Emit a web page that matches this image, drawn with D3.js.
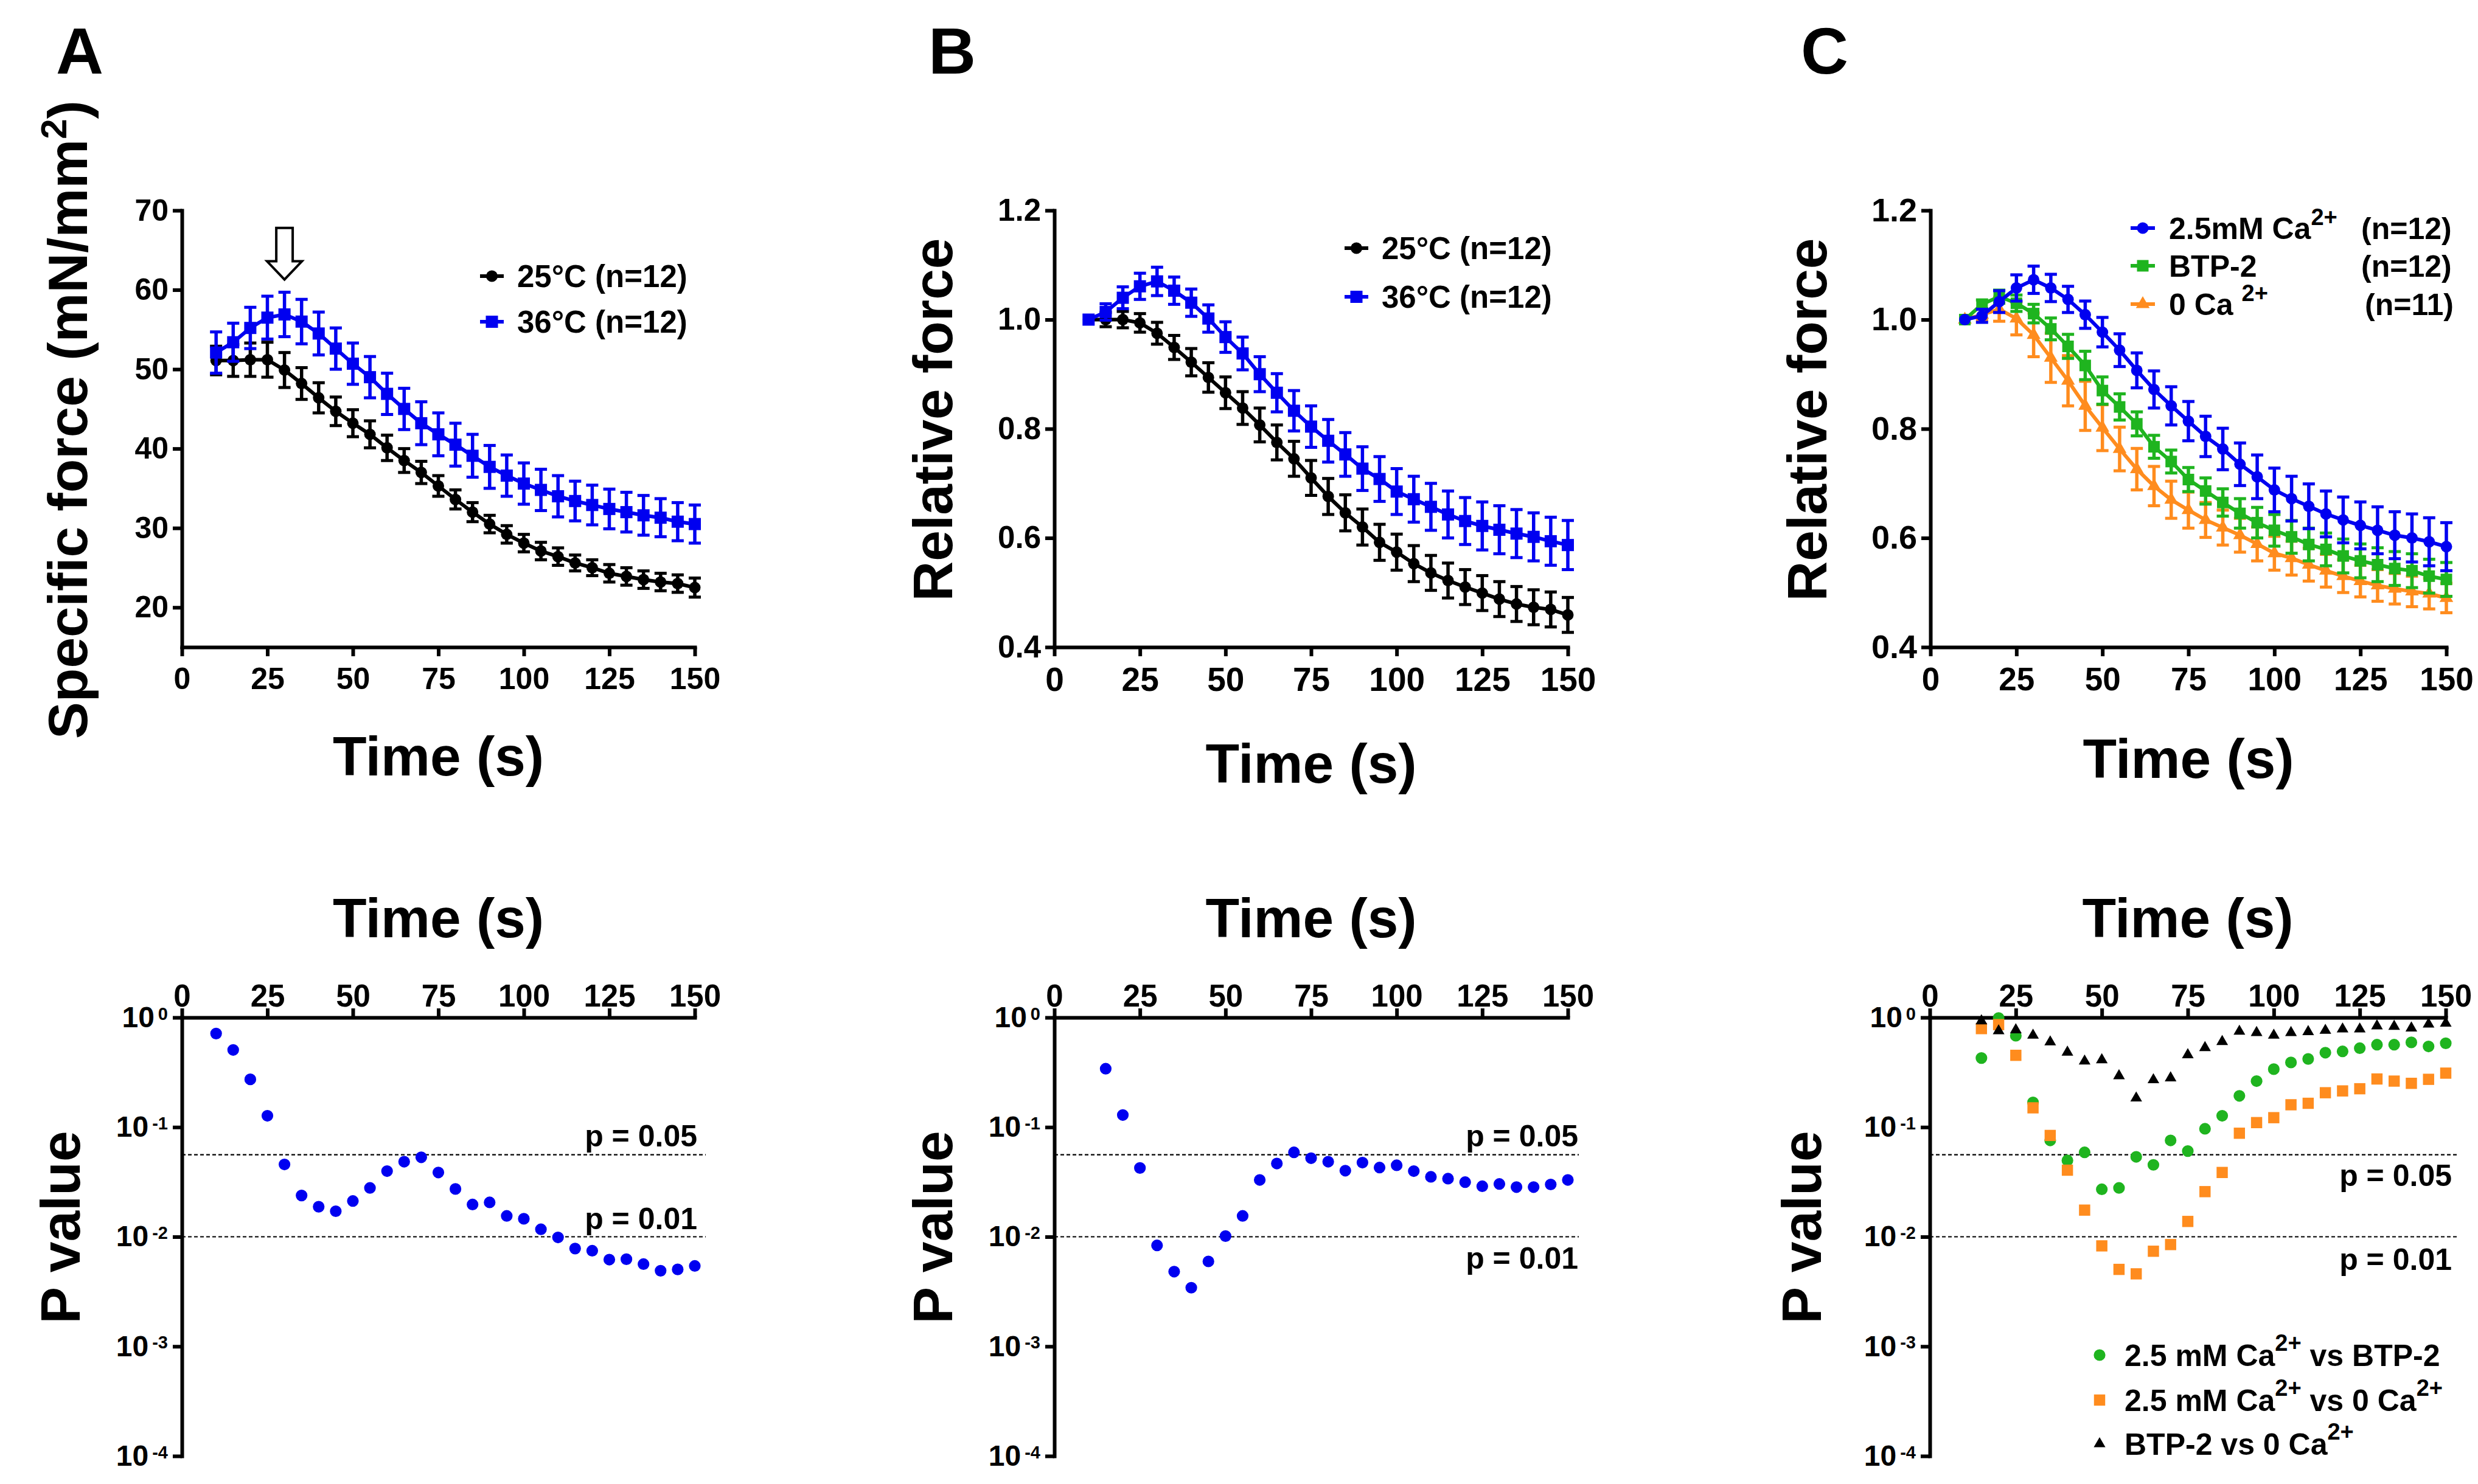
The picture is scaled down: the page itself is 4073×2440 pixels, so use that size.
<!DOCTYPE html>
<html>
<head>
<meta charset="utf-8">
<script src="https://cdn.jsdelivr.net/npm/d3@7"></script>
<style>
  body { margin: 0; background: #fff; }
  svg { display: block; }
  text { font-family: "Liberation Sans", Arial, sans-serif; font-weight: bold; fill: #000; }
</style>
</head>
<body>
<svg id="fig"></svg>
<script>
// ---- data ----
var times = [10,15,20,25,30,35,40,45,50,55,60,65,70,75,80,85,90,95,100,105,110,115,120,125,130,135,140,145,150];
var pTimes = times.slice(1); // p values in B and C start at 15 s
var timeTicks = [0,25,50,75,100,125,150];

// A: specific force (mN/mm2), mean and SEM
var forceA25 = [51.1,51.1,51.2,51.2,49.9,48.2,46.4,44.7,43.2,41.8,40.1,38.5,37.0,35.3,33.6,32.0,30.5,29.2,28.1,27.1,26.4,25.6,25.0,24.3,23.9,23.5,23.2,23.0,22.5];
var semA25   = [1.8,2.0,2.1,2.2,2.2,2.0,1.9,1.8,1.7,1.7,1.6,1.5,1.4,1.3,1.2,1.2,1.1,1.1,1.1,1.1,1.1,1.0,1.0,1.1,1.1,1.1,1.1,1.1,1.2];
var forceA36 = [52.1,53.4,55.2,56.5,56.9,56.0,54.5,52.6,50.7,49.0,46.9,45.0,43.2,41.8,40.5,39.1,37.7,36.6,35.6,34.8,34.0,33.4,32.9,32.4,32.0,31.6,31.3,30.8,30.5];
var semA36   = [2.6,2.4,2.6,2.7,2.8,2.8,2.7,2.6,2.6,2.6,2.6,2.6,2.7,2.7,2.7,2.7,2.7,2.6,2.6,2.6,2.6,2.5,2.5,2.5,2.5,2.5,2.4,2.4,2.4];

// B: relative force
var relB25 = [1.0,1.0,1.0,0.994,0.975,0.949,0.922,0.894,0.866,0.838,0.807,0.775,0.745,0.710,0.676,0.646,0.620,0.592,0.574,0.553,0.536,0.522,0.510,0.499,0.488,0.479,0.473,0.469,0.459];
var semB25 = [0,0.013,0.015,0.017,0.02,0.022,0.025,0.027,0.029,0.03,0.031,0.032,0.032,0.032,0.033,0.033,0.033,0.033,0.033,0.033,0.032,0.032,0.032,0.032,0.032,0.032,0.032,0.032,0.032];
var relB36 = [1.0,1.014,1.040,1.061,1.070,1.053,1.031,1.002,0.968,0.938,0.900,0.866,0.833,0.804,0.778,0.753,0.727,0.708,0.685,0.671,0.657,0.643,0.631,0.622,0.615,0.608,0.602,0.594,0.587];
var semB36 = [0,0.015,0.02,0.024,0.026,0.025,0.025,0.025,0.028,0.03,0.032,0.035,0.037,0.038,0.039,0.04,0.04,0.041,0.042,0.042,0.043,0.043,0.043,0.044,0.044,0.044,0.044,0.044,0.045];

// C: relative force
var relCCa  = [1.0,1.007,1.033,1.058,1.073,1.058,1.037,1.009,0.977,0.944,0.907,0.872,0.842,0.814,0.786,0.763,0.735,0.712,0.688,0.672,0.658,0.644,0.633,0.623,0.614,0.605,0.600,0.593,0.584];
var semCCa  = [0,0.012,0.02,0.024,0.025,0.025,0.024,0.025,0.027,0.03,0.032,0.034,0.035,0.036,0.037,0.038,0.039,0.04,0.04,0.041,0.041,0.042,0.042,0.043,0.043,0.043,0.044,0.044,0.044];
var relCBtp = [1.0,1.028,1.042,1.030,1.011,0.983,0.951,0.916,0.870,0.840,0.809,0.767,0.740,0.707,0.686,0.665,0.645,0.628,0.614,0.602,0.588,0.579,0.567,0.558,0.551,0.544,0.540,0.530,0.524];
var semCBtp = [0,0.008,0.012,0.015,0.017,0.02,0.022,0.026,0.025,0.024,0.022,0.021,0.021,0.022,0.024,0.025,0.027,0.028,0.029,0.03,0.03,0.03,0.031,0.031,0.031,0.031,0.031,0.031,0.031];
var relC0   = [1.0,1.009,1.019,1.002,0.972,0.930,0.888,0.842,0.802,0.763,0.726,0.695,0.670,0.651,0.633,0.619,0.605,0.589,0.572,0.563,0.551,0.540,0.530,0.521,0.513,0.507,0.502,0.498,0.490];
var semC0   = [0,0.01,0.022,0.03,0.04,0.045,0.046,0.045,0.042,0.04,0.038,0.036,0.034,0.033,0.032,0.032,0.031,0.031,0.031,0.031,0.03,0.03,0.03,0.029,0.029,0.028,0.028,0.028,0.027];

// P values
var pA = [0.714,0.506,0.273,0.127,0.0457,0.0238,0.0188,0.0171,0.0212,0.0279,0.0397,0.0484,0.0531,0.0386,0.0273,0.0197,0.0206,0.0155,0.0146,0.0117,0.00987,0.00781,0.00746,0.00619,0.00624,0.00563,0.0049,0.00504,0.00542];
var pB = [0.341,0.129,0.0424,0.00834,0.00481,0.00343,0.00596,0.01015,0.0155,0.033,0.0466,0.0589,0.0521,0.0484,0.0401,0.0475,0.0428,0.0449,0.0397,0.0352,0.0339,0.0315,0.0289,0.0303,0.0284,0.0284,0.030,0.033];
var pCaVsBtp = [0.427,0.99,0.682,0.168,0.0757,0.0497,0.0589,0.0271,0.0279,0.0536,0.0453,0.0757,0.0605,0.0966,0.127,0.193,0.263,0.338,0.389,0.419,0.478,0.491,0.525,0.565,0.565,0.593,0.545,0.582];
var pCaVs0   = [0.792,0.861,0.452,0.150,0.084,0.0405,0.0175,0.00826,0.00504,0.00459,0.00738,0.00849,0.0138,0.0258,0.0386,0.088,0.110,0.122,0.160,0.165,0.206,0.214,0.224,0.275,0.263,0.251,0.273,0.311];
var pBtpVs0  = [0.93,0.755,0.77,0.688,0.598,0.482,0.400,0.411,0.294,0.184,0.270,0.281,0.456,0.530,0.603,0.748,0.728,0.688,0.728,0.741,0.762,0.784,0.784,0.837,0.829,0.80,0.869,0.885];
var pTicks = [1,0.1,0.01,0.001,0.0001];
var pExponents = ["0","-1","-2","-3","-4"];
var pLines = [0.056, 0.01];
var pLineLabels = ["p = 0.05","p = 0.01"];

// labels
var legendAB = ["25\u00b0C (n=12)","36\u00b0C (n=12)"];
var legendC = [[["2.5mM Ca",0],["2+",1]], [["BTP-2",0]], [["0 Ca ",0],["2+",1]]];
var legendCn = ["(n=12)","(n=12)","(n=11)"];
var legendP = [
  [["2.5 mM Ca",0],["2+",1],[" vs BTP-2",0]],
  [["2.5 mM Ca",0],["2+",1],[" vs 0 Ca",0],["2+",1]],
  [["BTP-2 vs 0 Ca",0],["2+",1]]
];
// arrow annotation in panel A (time, force units)
var arrowA = {t: 30, tip: 61.3, head: 63.6, top: 67.8, shaftHalf: 2.4, headHalf: 5.1};

var BLUE = "#0000f0", GREEN = "#1fb41f", ORANGE = "#ff8c1e";

var svg = d3.select("#fig").attr("width", 4073).attr("height", 2440);
svg.append("rect").attr("width", 4073).attr("height", 2440).attr("fill", "#fff");

var TOP_Y0 = 346, TOP_Y1 = 1064, BOT_Y0 = 1673, BOT_Y1 = 2394;

function styleAxis(a, fs) {
  a.attr("font-family", null).attr("font-size", null);
  a.select(".domain").attr("stroke-width", 6).attr("stroke-linecap", "square");
  a.selectAll(".tick line").attr("stroke-width", 6);
  a.selectAll(".tick text").style("font-size", fs + "px");
}

function rich(t, parts, supSize, shift) {
  var up = false;
  parts.forEach(function(p) {
    var ts = t.append("tspan").text(p[0]);
    if (p[1]) {
      ts.style("font-size", supSize + "px");
      if (!up) { ts.attr("dy", -shift); up = true; }
    } else if (up) { ts.attr("dy", shift); up = false; }
  });
}

function mark(g, sym, area, color, cx, cy) {
  g.append("path").attr("d", d3.symbol().type(sym).size(area)())
    .attr("transform", "translate(" + cx + "," + cy + ")").attr("fill", color);
}

function drawTop(p) {
  var g = svg.append("g");
  var x = d3.scaleLinear().domain([0, 150]).range([p.left, p.right]);
  var y = d3.scaleLinear().domain(p.yDomain).range([TOP_Y1, TOP_Y0]);

  var xa = g.append("g").attr("transform", "translate(0," + TOP_Y1 + ")")
    .call(d3.axisBottom(x).tickValues(timeTicks).tickSize(15).tickSizeOuter(0).tickPadding(18));
  styleAxis(xa, p.xFont);
  var ya = g.append("g").attr("transform", "translate(" + p.left + ",0)")
    .call(d3.axisLeft(y).tickValues(p.yTicks).tickFormat(p.yFmt).tickSize(15).tickSizeOuter(0).tickPadding(7));
  styleAxis(ya, p.yFont);

  p.series.forEach(function(s) {
    var sg = g.append("g");
    sg.append("path").datum(times)
      .attr("d", d3.line().x(function(d) { return x(d); }).y(function(d, i) { return y(s.v[i]); }))
      .attr("fill", "none").attr("stroke", s.color).attr("stroke-width", 6);
    times.forEach(function(t, i) {
      if (!s.e[i]) return;
      var cx = x(t), hi = y(s.v[i] + s.e[i]), lo = y(s.v[i] - s.e[i]);
      sg.append("line").attr("x1", cx).attr("x2", cx).attr("y1", hi).attr("y2", lo)
        .attr("stroke", s.color).attr("stroke-width", 5.5);
      [hi, lo].forEach(function(yy) {
        sg.append("line").attr("x1", cx - 10).attr("x2", cx + 10).attr("y1", yy).attr("y2", yy)
          .attr("stroke", s.color).attr("stroke-width", 5);
      });
    });
    times.forEach(function(t, i) { mark(sg, s.sym, s.area, s.color, x(t), y(s.v[i])); });
  });

  // legend
  var L = p.legend;
  p.series.forEach(function(s, i) {
    var cy = L.rows[i];
    g.append("line").attr("x1", L.lineX[0]).attr("x2", L.lineX[1]).attr("y1", cy).attr("y2", cy)
      .attr("stroke", s.color).attr("stroke-width", 6);
    mark(g, s.sym, s.area, s.color, (L.lineX[0] + L.lineX[1]) / 2, cy);
    var t = g.append("text").attr("x", L.textX).attr("y", cy + 18).style("font-size", L.font + "px");
    if (typeof L.labels[i] === "string") t.text(L.labels[i]);
    else rich(t, L.labels[i], 38, 23);
    if (L.n) g.append("text").attr("x", L.nX[i]).attr("y", cy + 18).style("font-size", L.font + "px").text(L.n[i]);
  });

  // axis titles
  g.append("text").attr("x", (p.left + p.right) / 2).attr("y", p.timeY).attr("text-anchor", "middle")
    .style("font-size", "91px").text("Time (s)");
  var yt = g.append("text").attr("text-anchor", "middle")
    .attr("transform", "translate(" + p.yTitleX + ",690) rotate(-90)").style("font-size", "91px");
  if (typeof p.yTitle === "string") yt.text(p.yTitle);
  else rich(yt, p.yTitle, 60, 34);

  g.append("text").attr("x", p.letterX).attr("y", 121).style("font-size", "108px").text(p.letter);
  return {g: g, x: x, y: y};
}

function drawBottom(p) {
  var g = svg.append("g");
  var x = d3.scaleLinear().domain([0, 150]).range([p.left, p.right]);
  var y = d3.scaleLog().domain([1e-4, 1]).range([BOT_Y1, BOT_Y0]);

  var xa = g.append("g").attr("transform", "translate(0," + BOT_Y0 + ")")
    .call(d3.axisTop(x).tickValues(timeTicks).tickSize(15).tickSizeOuter(0).tickPadding(3));
  styleAxis(xa, 51);
  var ya = g.append("g").attr("transform", "translate(" + p.left + ",0)")
    .call(d3.axisLeft(y).tickValues(pTicks).tickFormat(function() { return ""; }).tickSize(15).tickSizeOuter(0).tickPadding(8));
  styleAxis(ya, 48);
  ya.selectAll(".tick text").each(function(d, i) {
    var t = d3.select(this);
    t.append("tspan").text("10");
    t.append("tspan").attr("dx", 6).attr("dy", "-0.42em").style("font-size", "29px").text(pExponents[i]);
  });

  pLines.forEach(function(v, i) {
    g.append("line").attr("x1", p.left).attr("x2", p.right + 18).attr("y1", y(v)).attr("y2", y(v))
      .attr("stroke", "#000").attr("stroke-width", 2.2).attr("stroke-dasharray", "6,4");
    g.append("text").attr("x", p.right + p.labelDx).attr("y", y(v) + p.labelDy[i])
      .attr("text-anchor", "end").style("font-size", "50px").text(pLineLabels[i]);
  });

  p.series.forEach(function(s) {
    var sg = g.append("g");
    s.t.forEach(function(t, i) { mark(sg, s.sym, s.area, s.color, x(t), y(s.v[i])); });
  });

  if (p.legend) {
    var L = p.legend;
    p.series.forEach(function(s, i) {
      mark(g, s.sym, s.area, s.color, L.markX, L.rows[i]);
      var t = g.append("text").attr("x", L.textX).attr("y", L.rows[i] + 18).style("font-size", "50px");
      rich(t, L.labels[i], 38, 25);
    });
  }

  g.append("text").attr("x", (p.left + p.right) / 2).attr("y", 1541).attr("text-anchor", "middle")
    .style("font-size", "91px").text("Time (s)");
  g.append("text").attr("text-anchor", "middle")
    .attr("transform", "translate(" + p.yTitleX + ",2018) rotate(-90)").style("font-size", "91px").text("P value");
}

// ---- top row ----
var A = drawTop({
  letter: "A", letterX: 92, left: 299, right: 1142,
  yDomain: [15, 70], yTicks: [20,30,40,50,60,70], yFmt: d3.format("d"), xFont: 50, yFont: 50,
  series: [
    {v: forceA25, e: semA25, color: "#000", sym: d3.symbolCircle, area: 283},
    {v: forceA36, e: semA36, color: BLUE, sym: d3.symbolSquare, area: 400}
  ],
  legend: {lineX: [789, 828], textX: 850, rows: [454, 529], font: 51, labels: legendAB},
  timeY: 1275, yTitleX: 143,
  yTitle: [["Specific force (mN/mm", 0], ["2", 1], [")", 0]]
});

// open arrow above the 36 C peak
var ax = A.x, ay = A.y;
var arrowPts = [
  [arrowA.t - arrowA.shaftHalf, arrowA.top], [arrowA.t + arrowA.shaftHalf, arrowA.top],
  [arrowA.t + arrowA.shaftHalf, arrowA.head], [arrowA.t + arrowA.headHalf, arrowA.head],
  [arrowA.t, arrowA.tip], [arrowA.t - arrowA.headHalf, arrowA.head],
  [arrowA.t - arrowA.shaftHalf, arrowA.head]
];
A.g.append("path")
  .attr("d", d3.line().x(function(d) { return ax(d[0]); }).y(function(d) { return ay(d[1]); })(arrowPts) + "Z")
  .attr("fill", "#fff").attr("stroke", "#000").attr("stroke-width", 4).attr("stroke-linejoin", "miter");

drawTop({
  letter: "B", letterX: 1526, left: 1733, right: 2577,
  yDomain: [0.4, 1.2], yTicks: [0.4,0.6,0.8,1.0,1.2], yFmt: d3.format(".1f"), xFont: 55, yFont: 51,
  series: [
    {v: relB25, e: semB25, color: "#000", sym: d3.symbolCircle, area: 283},
    {v: relB36, e: semB36, color: BLUE, sym: d3.symbolSquare, area: 400}
  ],
  legend: {lineX: [2210, 2249], textX: 2271, rows: [408, 488], font: 51, labels: legendAB},
  timeY: 1287, yTitleX: 1565, yTitle: "Relative force"
});

drawTop({
  letter: "C", letterX: 2960, left: 3173, right: 4021,
  yDomain: [0.4, 1.2], yTicks: [0.4,0.6,0.8,1.0,1.2], yFmt: d3.format(".1f"), xFont: 53, yFont: 54,
  series: [
    {v: relC0, e: semC0, color: ORANGE, sym: d3.symbolTriangle, area: 220},
    {v: relCBtp, e: semCBtp, color: GREEN, sym: d3.symbolSquare, area: 361},
    {v: relCCa, e: semCCa, color: BLUE, sym: d3.symbolCircle, area: 283}
  ],
  legend: {lineX: [3502, 3542], textX: 3565, rows: [500, 437, 375], font: 50,
           labels: [legendC[2], legendC[1], legendC[0]], n: [legendCn[2], legendCn[1], legendCn[0]],
           nX: [3887, 3881, 3881]},
  timeY: 1279, yTitleX: 3002, yTitle: "Relative force"
});

// ---- bottom row ----
drawBottom({
  left: 299, right: 1142, labelDx: 4, labelDy: [-14, -13], yTitleX: 131,
  series: [{t: times, v: pA, color: BLUE, sym: d3.symbolCircle, area: 290}]
});
drawBottom({
  left: 1733, right: 2577, labelDx: 17, labelDy: [-14, 52], yTitleX: 1565,
  series: [{t: pTimes, v: pB, color: BLUE, sym: d3.symbolCircle, area: 290}]
});
drawBottom({
  left: 3172, right: 4020, labelDx: 10, labelDy: [51, 54], yTitleX: 2993,
  series: [
    {t: pTimes, v: pCaVsBtp, color: GREEN, sym: d3.symbolCircle, area: 290},
    {t: pTimes, v: pCaVs0, color: ORANGE, sym: d3.symbolSquare, area: 340},
    {t: pTimes, v: pBtpVs0, color: "#000", sym: d3.symbolTriangle, area: 160}
  ],
  legend: {markX: 3451, textX: 3492, rows: [2228, 2302, 2374], labels: legendP}
});
</script>
</body>
</html>
